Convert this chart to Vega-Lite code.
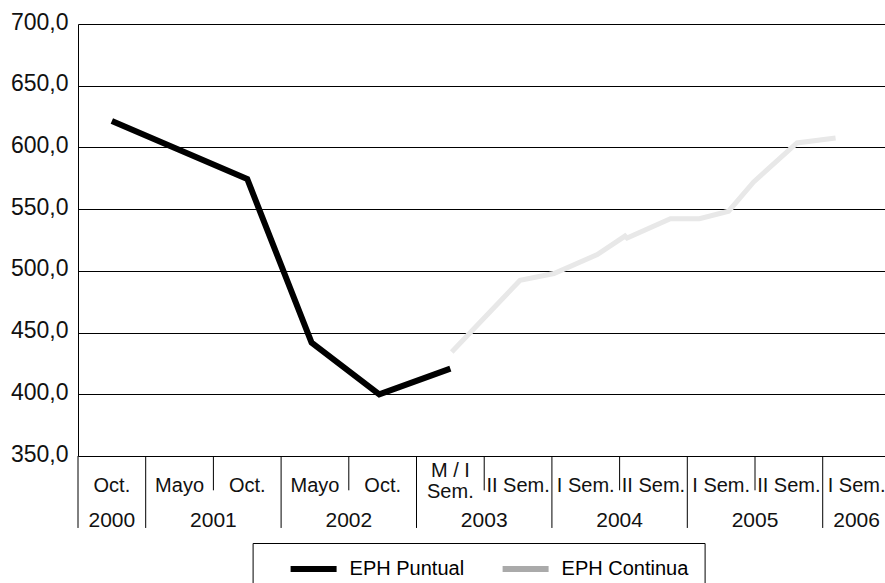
{
  "$schema": "https://vega.github.io/schema/vega-lite/v6.json",
  "autosize": {"type": "none"},
  "padding": {"left": 78, "top": 24, "right": 0, "bottom": 127},
  "width": 807,
  "height": 432,
  "config": {"view": {"stroke": null}, "font": "Liberation Sans"},
  "datasets": {
    "series": [
      {"serie": "EPH Puntual", "pos": 0.5, "value": 621.4},
      {"serie": "EPH Puntual", "pos": 1.5, "value": 597.9},
      {"serie": "EPH Puntual", "pos": 2.5, "value": 574.4},
      {"serie": "EPH Puntual", "pos": 3.45, "value": 441.9},
      {"serie": "EPH Puntual", "pos": 4.45, "value": 400.0},
      {"serie": "EPH Puntual", "pos": 5.5, "value": 420.8},
      {"serie": "EPH Continua", "pos": 5.52, "value": 434.3},
      {"serie": "EPH Continua", "pos": 6.53, "value": 492.4},
      {"serie": "EPH Continua", "pos": 7.03, "value": 497.8},
      {"serie": "EPH Continua", "pos": 7.67, "value": 513.2},
      {"serie": "EPH Continua", "pos": 8.08, "value": 528.2},
      {"serie": "EPH Continua", "pos": 8.11, "value": 526.6},
      {"serie": "EPH Continua", "pos": 8.75, "value": 542.3},
      {"serie": "EPH Continua", "pos": 9.18, "value": 542.3},
      {"serie": "EPH Continua", "pos": 9.61, "value": 548.3},
      {"serie": "EPH Continua", "pos": 9.98, "value": 572.0},
      {"serie": "EPH Continua", "pos": 10.62, "value": 603.6},
      {"serie": "EPH Continua", "pos": 11.19, "value": 607.6}
    ],
    "cats": [
      {"pos": 0.5, "label": "Oct."},
      {"pos": 1.5, "label": "Mayo"},
      {"pos": 2.5, "label": "Oct."},
      {"pos": 3.5, "label": "Mayo"},
      {"pos": 4.5, "label": "Oct."},
      {"pos": 6.5, "label": "II Sem."},
      {"pos": 7.5, "label": "I Sem."},
      {"pos": 8.5, "label": "II Sem."},
      {"pos": 9.5, "label": "I Sem."},
      {"pos": 10.5, "label": "II Sem."},
      {"pos": 11.5, "label": "I Sem."}
    ],
    "cats2": [
      {"pos": 5.5, "label": "M / I\nSem."}
    ],
    "years": [
      {"pos": 0.5, "year": "2000"},
      {"pos": 2, "year": "2001"},
      {"pos": 4, "year": "2002"},
      {"pos": 6, "year": "2003"},
      {"pos": 8, "year": "2004"},
      {"pos": 10, "year": "2005"},
      {"pos": 11.5, "year": "2006"}
    ],
    "monthSep": [{"pos": 2}, {"pos": 4}, {"pos": 6}, {"pos": 8}, {"pos": 10}],
    "yearSep": [{"pos": 0}, {"pos": 1}, {"pos": 3}, {"pos": 5}, {"pos": 7}, {"pos": 9}, {"pos": 11}]
  },
  "layer": [
    {
      "data": {"name": "series"},
      "mark": {"type": "line", "clip": false},
      "encoding": {
        "x": {"field": "pos", "type": "quantitative", "scale": {"domain": [0, 11.92], "nice": false, "zero": false}, "axis": null},
        "y": {
          "field": "value", "type": "quantitative", "title": null,
          "scale": {"domain": [350, 700], "nice": false, "zero": false},
          "axis": {
            "values": [350, 400, 450, 500, 550, 600, 650, 700],
            "labelExpr": "replace(format(datum.value, '.1f'), '.', ',')",
            "grid": true, "gridColor": "#000", "gridOpacity": 1, "gridWidth": 1,
            "ticks": false, "domainColor": "#000", "domainWidth": 1,
            "labelFont": "Liberation Sans", "labelFontSize": 23, "labelColor": "#111",
            "labelPadding": 10, "labelOffset": -2
          }
        },
        "color": {
          "condition": {"test": "datum.serie === 'EPH Continua'", "value": "#e8e8e8"},
          "field": "serie", "type": "nominal",
          "scale": {"domain": ["EPH Puntual", "EPH Continua"], "range": ["#000000", "#aaaaaa"]},
          "legend": {
            "title": null, "orient": "none", "legendX": 174.6, "legendY": 519,
            "direction": "horizontal", "symbolType": "stroke", "symbolSize": 2116,
            "symbolStrokeWidth": 6, "clipHeight": 20, "padding": 16,
            "symbolOffset": 19, "labelOffset": 10, "columnPadding": 16,
            "labelFont": "Liberation Sans", "labelFontSize": 20, "labelColor": "#000",
            "labelLimit": 300, "strokeColor": "#000", "fillColor": "#fff"
          }
        },
        "strokeWidth": {"condition": {"test": "datum.serie === 'EPH Continua'", "value": 5}, "value": 6}
      }
    },
    {
      "data": {"name": "monthSep"},
      "mark": {"type": "rule", "color": "#000", "strokeWidth": 1},
      "encoding": {
        "x": {"field": "pos", "type": "quantitative"},
        "y": {"datum": 350, "type": "quantitative", "title": null},
        "y2": {"datum": 322.2}
      }
    },
    {
      "data": {"name": "yearSep"},
      "mark": {"type": "rule", "color": "#000", "strokeWidth": 1},
      "encoding": {
        "x": {"field": "pos", "type": "quantitative"},
        "y": {"datum": 350, "type": "quantitative", "title": null},
        "y2": {"datum": 291.7}
      }
    },
    {
      "data": {"name": "cats"},
      "mark": {"type": "text", "font": "Liberation Sans", "fontSize": 20, "color": "#111", "align": "center", "baseline": "middle"},
      "encoding": {
        "x": {"field": "pos", "type": "quantitative"},
        "y": {"datum": 325.5, "type": "quantitative", "title": null},
        "text": {"field": "label"}
      }
    },
    {
      "data": {"name": "cats2"},
      "mark": {"type": "text", "font": "Liberation Sans", "fontSize": 20, "color": "#111", "align": "center", "baseline": "middle", "lineBreak": "\n", "lineHeight": 21},
      "encoding": {
        "x": {"field": "pos", "type": "quantitative"},
        "y": {"datum": 337.6, "type": "quantitative", "title": null},
        "text": {"field": "label"}
      }
    },
    {
      "data": {"name": "years"},
      "mark": {"type": "text", "font": "Liberation Sans", "fontSize": 21, "color": "#111", "align": "center", "baseline": "middle"},
      "encoding": {
        "x": {"field": "pos", "type": "quantitative"},
        "y": {"datum": 297.5, "type": "quantitative", "title": null},
        "text": {"field": "year"}
      }
    }
  ]
}
